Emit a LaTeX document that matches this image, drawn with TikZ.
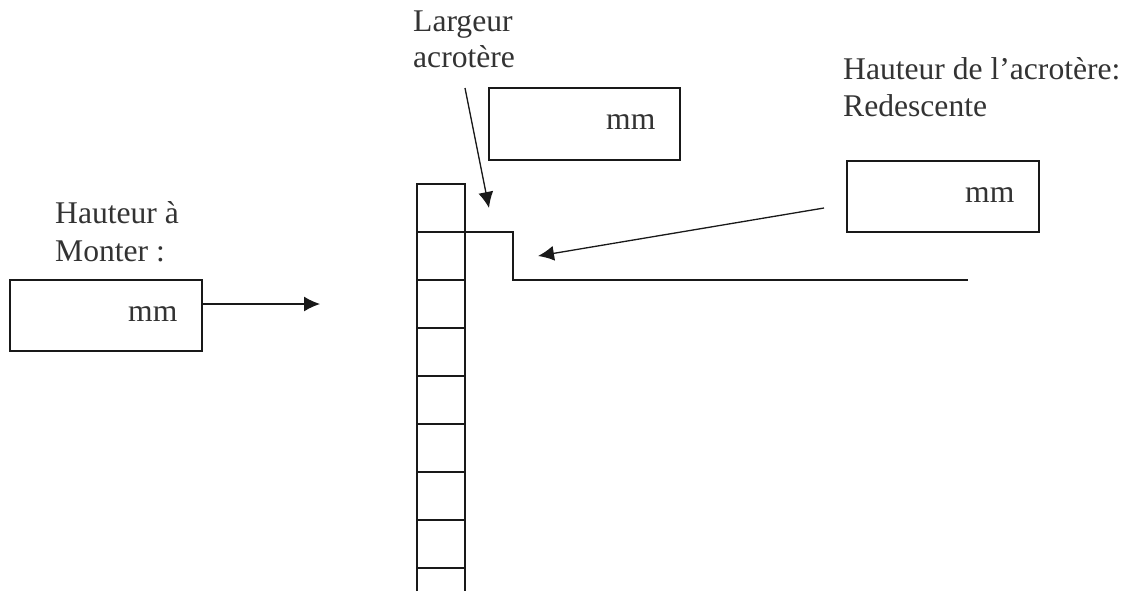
\documentclass[tikz,border=0pt]{standalone}
\usepackage{fontspec}
\setmainfont{Liberation Serif}
\usetikzlibrary{arrows.meta}
\tikzset{
 lab/.style={inner sep=0pt,anchor=base west,font=\fontsize{31.6pt}{36pt}\selectfont,text=black!80},
 boxs/.style={draw=black!90,line width=1.3pt},
 ln/.style={draw=black!90,line width=1.3pt},
 arr/.style={ln,-{Latex[length=16pt,width=15pt]}}
}
\begin{document}
\begin{tikzpicture}[x=1pt,y=-1pt]
\useasboundingbox (0,0) rectangle (1131,591);
\fill[white] (0,0) rectangle (1131,591);
\node[lab] (t1a) at (413,32) {Largeur};
\node[lab] (t1b) at (413,68) {acrotère};
\node[lab] (t2a) at (843,80) {Hauteur de l’acrotère:};
\node[lab] (t2b) at (843,117) {Redescente};
\node[lab] (t3a) at (55,223) {Hauteur à};
\node[lab] (t3b) at (55,261) {Monter :};
\node[lab] (m1) at (606,129) {mm};
\node[lab] (m2) at (965,202) {mm};
\node[lab] (m3) at (128,321) {mm};
\coordinate (b1nw) at (489,88); \coordinate (b1se) at (680,160);
\draw[boxs] (b1nw) rectangle (b1se);
\coordinate (b2nw) at (847,161); \coordinate (b2se) at (1039,232);
\draw[boxs] (b2nw) rectangle (b2se);
\coordinate (b3nw) at (10,280); \coordinate (b3se) at (202,351);
\draw[boxs] (b3nw) rectangle (b3se);
% column
\draw[ln] (417,591) -- (417,184) -- (465,184) -- (465,591);
\foreach \y in {232,280,328,376,424,472,520,568} \draw[ln] (417,\y) -- (465,\y);
% roof
\coordinate (r0) at (465,232); \coordinate (r1) at (513,232); \coordinate (r2) at (513,280); \coordinate (r3) at (968,280);
\draw[ln] (r0) -- (r1) -- (r2) -- (r3);
% arrows
\coordinate (a1s) at (465,88); \coordinate (a1e) at (489,208);
\draw[arr] (a1s) -- (a1e);
\coordinate (a2s) at (824,208); \coordinate (a2e) at (538,256);
\draw[arr] (a2s) -- (a2e);
\coordinate (a3s) at (202,304); \coordinate (a3e) at (320,304);
\draw[arr] (a3s) -- (a3e);
\end{tikzpicture}
\end{document}
